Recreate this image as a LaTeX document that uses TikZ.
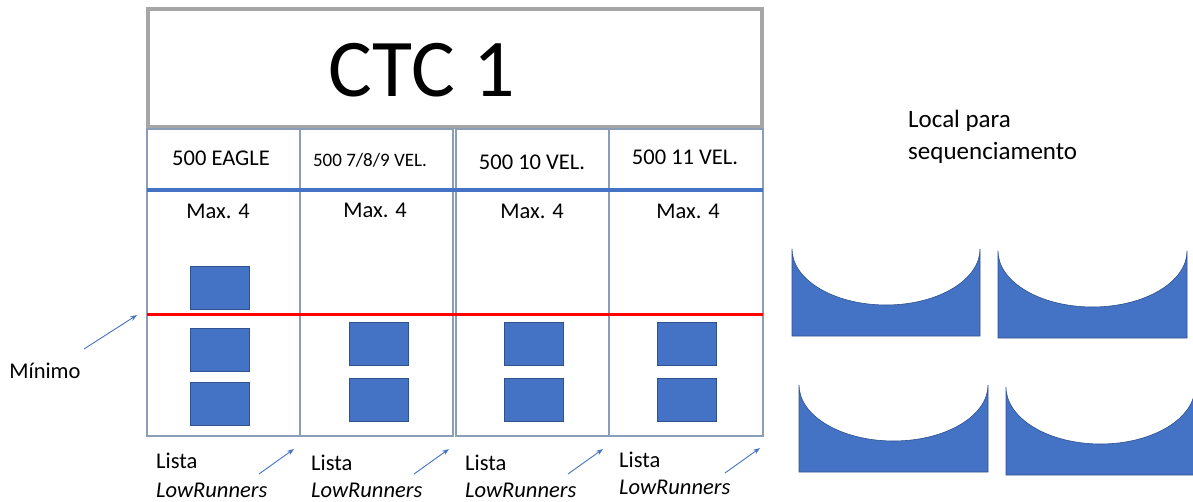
\documentclass[tikz,border=0pt]{standalone}
\usepackage{fontspec}
\setmainfont{Carlito}
\usetikzlibrary{arrows.meta}
\definecolor{framegray}{RGB}{166,166,166}
\definecolor{colline}{RGB}{138,158,184}
\definecolor{accent}{RGB}{68,114,196}
\definecolor{accentdark}{RGB}{47,82,143}
\definecolor{minred}{RGB}{255,0,0}
\begin{document}
\begin{tikzpicture}[x=1pt,y=-1pt,
  colbox/.style={draw=colline,line width=2pt},
  bin/.style={draw=accentdark,fill=accent,line width=0.6pt,minimum width=59pt,minimum height=43pt,inner sep=0pt},
  pointer/.style={draw=accent,line width=0.9pt,-{Stealth[length=7pt,width=5pt]}},
  txt/.style={inner sep=0pt,anchor=base,font=\fontsize{22.5}{26}\selectfont},
  txtl/.style={inner sep=0pt,anchor=base west,font=\fontsize{22.5}{26}\selectfont},
  shelf/.style={fill=accent,draw=accentdark,line width=0.6pt}]
\useasboundingbox (0,0) rectangle (1193,502);

% title frame
\node[draw=framegray,line width=4pt,minimum width=614pt,minimum height=118pt,inner sep=0pt] (frame) at (454.5,68.5) {};
\node[inner sep=0pt,anchor=base,font=\fontsize{82}{90}\selectfont] (title) at (422,97) {CTC 1};

% four storage columns
\draw[colbox] (147,129) rectangle (300,436);
\draw[colbox] (300,129) rectangle (453,436);
\draw[colbox] (456,129) rectangle (609,436);
\draw[colbox] (609,129) rectangle (763,436);

% header / minimum separators
\draw[accent,line width=3.5pt] (147,190) -- (763,190);
\draw[minred,line width=3pt] (147,315) -- (763,315);

% column headers
\node[txt] (h1) at (221,166) {500 EAGLE};
\node[txt,font=\fontsize{19}{22}\selectfont] (h2) at (370,167) {500 7/8/9 VEL.};
\node[txt] (h3) at (532,170) {500 10 VEL.};
\node[txt] (h4) at (685,165) {500 11 VEL.};

% capacity labels
\node[txt] (m1) at (218,219) {Max. 4};
\node[txt] (m2) at (375,218) {Max. 4};
\node[txt] (m3) at (532,219) {Max. 4};
\node[txt] (m4) at (688,219) {Max. 4};

% stock in each column
\node[bin] (b11) at (219.5,287.5) {};
\node[bin] (b12) at (219.5,349.5) {};
\node[bin] (b13) at (219.5,403.5) {};
\node[bin] (b21) at (379,343.5) {};
\node[bin] (b22) at (379,399.5) {};
\node[bin] (b31) at (533.5,343.5) {};
\node[bin] (b32) at (533.5,399.5) {};
\node[bin] (b41) at (687,343.5) {};
\node[bin] (b42) at (687,399.5) {};

% minimum marker
\node[txt] (minimo) at (45,378) {Mínimo};
\coordinate (minA) at (84,349);
\coordinate (minB) at (137,315);
\draw[pointer] (minA) -- (minB);

% LowRunners lists under each column
\foreach \i/\x/\yl/\ylr/\ax/\ay in {1/156/468/497/259/474, 2/311/470/497/414/474, 3/465/470/497/568/474, 4/619/467/494/725/473}{
  \node[txtl] (lista\i) at (\x,\yl) {Lista};
  \node[txtl] (low\i) at (\x,\ylr) {\itshape LowRunners};
  \coordinate (la\i) at (\ax,\ay);
  \coordinate (lb\i) at (\ax+35,\ay-25);
  \draw[pointer] (la\i) -- (lb\i);
}

% sequencing area
\node[txtl,font=\fontsize{25}{28}\selectfont] (loc1) at (908,128) {Local para};
\node[txtl,font=\fontsize{25}{28}\selectfont] (loc2) at (908,160) {sequenciamento};

\draw[shelf] (980,249) -- (980,336) -- (792,336) -- (792,249)
  arc[start angle=180,end angle=0,x radius=94,y radius=56] -- cycle;
\draw[shelf] (1187,251) -- (1187,338) -- (998,338) -- (998,251)
  arc[start angle=180,end angle=0,x radius=94.5,y radius=56] -- cycle;
\draw[shelf] (988,385) -- (988,472) -- (799,472) -- (799,385)
  arc[start angle=180,end angle=0,x radius=94.5,y radius=56] -- cycle;
\draw[shelf] (1195,387) -- (1195,475) -- (1006,475) -- (1006,387)
  arc[start angle=180,end angle=0,x radius=94.5,y radius=57] -- cycle;
\end{tikzpicture}
\end{document}
